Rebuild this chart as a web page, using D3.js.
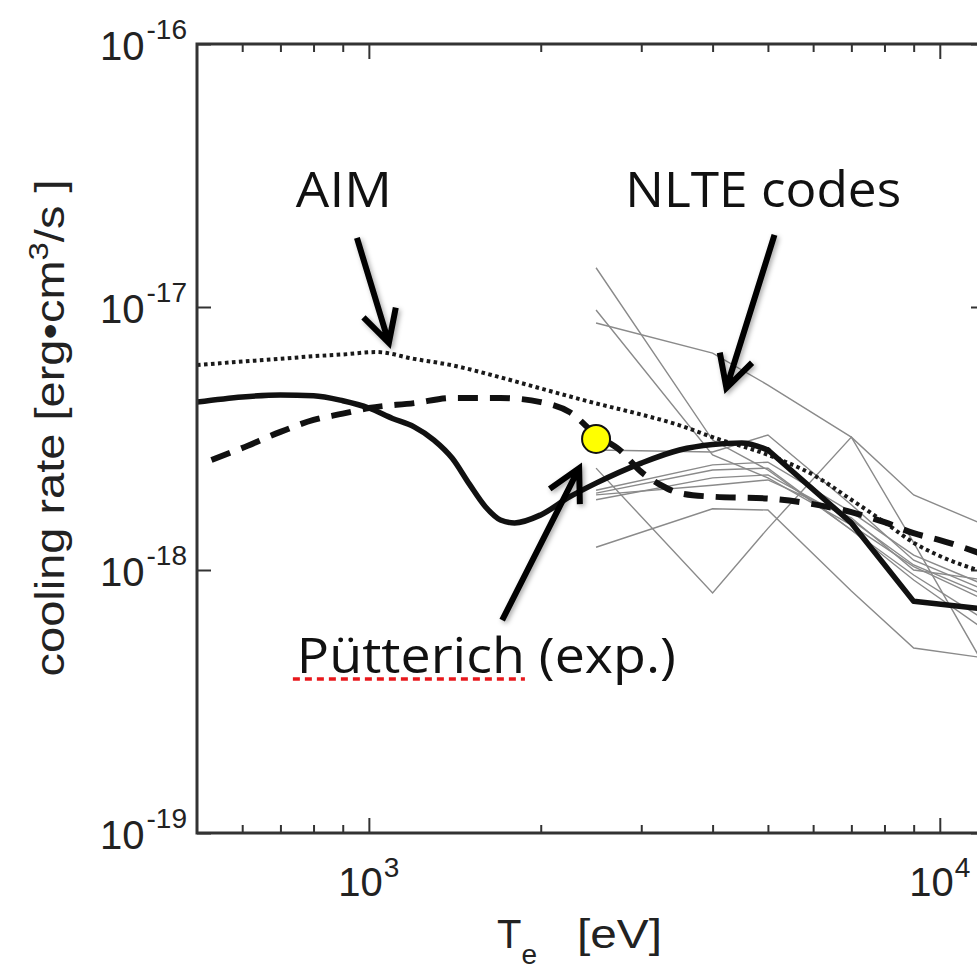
<!DOCTYPE html>
<html>
<head>
<meta charset="utf-8">
<script src="https://cdn.jsdelivr.net/npm/d3@7"></script>
<style>
  body { margin: 0; background: #fff; }
  svg { display: block; }
</style>
</head>
<body>
<svg id="chart" width="977" height="970"></svg>
<script>
// ---- data: electron temperature (eV) vs. tungsten cooling rate (erg cm^3 / s) ----

// Pütterich (solid thick line)
const puettTemps = [500, 600, 700, 800, 900, 1000, 1100, 1200, 1300, 1400, 1500, 1600, 1700, 1800,
  2000, 2250, 2500, 3000, 3500, 4000, 4500, 5000, 7000, 9000, 12000];
const puettRates = [4.35e-18, 4.55e-18, 4.63e-18, 4.6e-18, 4.4e-18, 4.13e-18, 3.77e-18, 3.5e-18, 3.12e-18,
  2.66e-18, 2.12e-18, 1.74e-18, 1.55e-18, 1.51e-18, 1.62e-18, 1.9e-18, 2.14e-18, 2.55e-18, 2.86e-18,
  3.0e-18, 3.04e-18, 2.86e-18, 1.51e-18, 7.6e-19, 7.1e-19];
// above this temperature the tabulated points are joined by straight segments
const puettCoarseFrom = 5000;

// second model (dashed thick line)
const dashTemps = [530, 600, 700, 800, 900, 1000, 1200, 1400, 1700, 2000, 2250, 2500, 2750, 3000, 3250,
  3500, 4000, 5000, 6000, 7000, 8000, 9000, 10000, 12000];
const dashRates = [2.62e-18, 2.91e-18, 3.35e-18, 3.72e-18, 3.93e-18, 4.13e-18, 4.31e-18, 4.51e-18,
  4.51e-18, 4.35e-18, 3.98e-18, 3.27e-18, 2.86e-18, 2.36e-18, 2.1e-18, 1.96e-18, 1.9e-18, 1.87e-18,
  1.78e-18, 1.66e-18, 1.52e-18, 1.38e-18, 1.3e-18, 1.14e-18];

// AIM (dotted line)
const aimTemps = [500, 600, 700, 800, 900, 1030, 1200, 1400, 1700, 2000, 2500, 3000, 3500, 4000, 5000,
  6000, 7000, 8000, 9000, 10000, 12000];
const aimRates = [6.02e-18, 6.2e-18, 6.35e-18, 6.5e-18, 6.6e-18, 6.74e-18, 6.35e-18, 6.0e-18, 5.4e-18,
  4.9e-18, 4.3e-18, 3.9e-18, 3.55e-18, 3.2e-18, 2.74e-18, 2.3e-18, 1.85e-18, 1.52e-18, 1.27e-18,
  1.13e-18, 9.8e-19];

// NLTE code submissions (thin grey lines), common temperature grid
const nlteTemps = [2500, 4000, 5000, 7000, 9000, 12000];
const nlteRuns = [
  [1.41e-17, 3.12e-18, 2.40e-18, 1.42e-18, 9.57e-19, 6.46e-19],
  [9.74e-18, 2.74e-18, 2.24e-18, 1.48e-18, 1.03e-18, 7.69e-19],
  [8.69e-18, 6.68e-18, 5.05e-18, 3.20e-18, 1.93e-18, 1.48e-18],
  [2.44e-18, 8.18e-19, 1.44e-18, 3.20e-18, 1.27e-18, 4.28e-19],
  [1.22e-18, 1.71e-18, 1.69e-18, 8.32e-19, 5.05e-19, 4.63e-19],
  [2.86e-18, 2.81e-18, 3.26e-18, 1.77e-18, 1.09e-18, 8.39e-19],
  [2.01e-18, 2.51e-18, 2.57e-18, 1.66e-18, 1.14e-18, 8.77e-19],
  [1.85e-18, 2.24e-18, 2.30e-18, 1.55e-18, 1.045e-18, 8.03e-19],
  [1.96e-18, 2.40e-18, 2.44e-18, 1.42e-18, 9.16e-19, 5.92e-19],
  [1.93e-18, 2.10e-18, 2.20e-18, 1.58e-18, 1.0e-18, 9.16e-19]
];

// experimental point
const expTemp = 2500;
const expRate = 3.15e-18;

// axis ticks
const xMajorTicks = [1000, 10000];
const xTickExponents = ["3", "4"];
const yMajorTicks = [1e-19, 1e-18, 1e-17, 1e-16];
const yTickExponents = ["-19", "-18", "-17", "-16"];

// annotation labels and arrows, anchored in data coordinates
const labelTexts = ["AIM", "NLTE codes", "Pütterich (exp.)"];
const labelTemps = [745, 2812, 748];
const labelRates = [2.4e-17, 2.4e-17, 4.06e-19];
const labelWidths = [96, 276, 379];
const arrowFromTemps = [953, 5134, 1712];
const arrowFromRates = [1.83e-17, 1.88e-17, 6.45e-19];
const arrowToTemps = [1084, 4229, 2335];
const arrowToRates = [7.3e-18, 4.92e-18, 2.44e-18];

// ---- layout ----
const plot = { left: 197, top: 44, right: 985, bottom: 833 };
const svg = d3.select("#chart");

const x = d3.scaleLog().domain([500, 12000]).range([plot.left, plot.right]);
const y = d3.scaleLog().domain([1e-19, 1e-16]).range([plot.bottom, plot.top]);

const isPow10 = t => Math.abs(Math.log10(t) - Math.round(Math.log10(t))) < 1e-9;
const xMinorTicks = x.ticks().filter(t => t > 500 && t < 12000 && !isPow10(t));

svg.append("rect").attr("width", 977).attr("height", 970).attr("fill", "#fff");

const defs = svg.append("defs");
defs.append("clipPath").attr("id", "plotClip")
  .append("rect")
  .attr("x", plot.left).attr("y", plot.top)
  .attr("width", plot.right - plot.left).attr("height", plot.bottom - plot.top);
const shadow = defs.append("filter").attr("id", "arrowShadow")
  .attr("x", "-50%").attr("y", "-50%").attr("width", "200%").attr("height", "200%");
shadow.append("feDropShadow").attr("dx", 2).attr("dy", 2).attr("stdDeviation", 2.5)
  .attr("flood-color", "#000").attr("flood-opacity", 0.35);

// ---- axes (inward ticks on all four sides) ----
const tickColor = "#333";
function styleAxis(g) {
  g.select(".domain").remove();
  g.selectAll(".tick line").attr("stroke", tickColor).attr("stroke-width", 2);
  g.selectAll(".tick text").remove();
}
svg.append("g").attr("transform", `translate(0,${plot.bottom})`)
  .call(d3.axisBottom(x).tickValues(xMinorTicks).tickSize(-8).tickFormat("")).call(styleAxis);
svg.append("g").attr("transform", `translate(0,${plot.bottom})`)
  .call(d3.axisBottom(x).tickValues(xMajorTicks).tickSize(-15).tickFormat("")).call(styleAxis);
svg.append("g").attr("transform", `translate(0,${plot.top})`)
  .call(d3.axisTop(x).tickValues(xMinorTicks).tickSize(-8).tickFormat("")).call(styleAxis);
svg.append("g").attr("transform", `translate(0,${plot.top})`)
  .call(d3.axisTop(x).tickValues(xMajorTicks).tickSize(-15).tickFormat("")).call(styleAxis);
svg.append("g").attr("transform", `translate(${plot.left},0)`)
  .call(d3.axisLeft(y).tickValues(yMajorTicks).tickSize(-14).tickFormat("")).call(styleAxis);
svg.append("g").attr("transform", `translate(${plot.right},0)`)
  .call(d3.axisRight(y).tickValues(yMajorTicks).tickSize(-14).tickFormat("")).call(styleAxis);

// ---- curves ----
const curves = svg.append("g").attr("clip-path", "url(#plotClip)");
const line = d3.line().x(d => x(d[0])).y(d => y(d[1]));
const smooth = d3.line().x(d => x(d[0])).y(d => y(d[1])).curve(d3.curveMonotoneX);

nlteRuns.forEach(run => {
  curves.append("path")
    .datum(nlteTemps.map((t, i) => [t, run[i]]))
    .attr("d", line)
    .attr("fill", "none").attr("stroke", "#8a8a8a").attr("stroke-width", 1.4);
});

curves.append("path")
  .datum(aimTemps.map((t, i) => [t, aimRates[i]]))
  .attr("d", smooth)
  .attr("fill", "none").attr("stroke", "#1a1a1a").attr("stroke-width", 4)
  .attr("stroke-dasharray", "3.6,3.4");

curves.append("path")
  .datum(dashTemps.map((t, i) => [t, dashRates[i]]))
  .attr("d", smooth)
  .attr("fill", "none").attr("stroke", "#111").attr("stroke-width", 6)
  .attr("stroke-dasharray", "20,12");

const puettPts = puettTemps.map((t, i) => [t, puettRates[i]]);
const solidStyle = p => p.attr("fill", "none").attr("stroke", "#111").attr("stroke-width", 5.5)
  .attr("stroke-linejoin", "round").attr("stroke-linecap", "round");
curves.append("path")
  .datum(puettPts.filter(d => d[0] <= puettCoarseFrom))
  .attr("d", smooth).call(solidStyle);
curves.append("path")
  .datum(puettPts.filter(d => d[0] >= puettCoarseFrom))
  .attr("d", line).call(solidStyle);

// ---- frame ----
svg.append("rect")
  .attr("x", plot.left).attr("y", plot.top)
  .attr("width", plot.right - plot.left).attr("height", plot.bottom - plot.top)
  .attr("fill", "none").attr("stroke", "#333").attr("stroke-width", 3);

// ---- tick labels ----
const tickFont = "'Liberation Sans', Arial, Helvetica, sans-serif";
yMajorTicks.forEach((v, i) => {
  const t = svg.append("text")
    .attr("x", 187).attr("y", y(v) + 16)
    .attr("text-anchor", "end")
    .attr("font-family", tickFont).attr("font-size", 40).attr("fill", "#222");
  t.append("tspan").text("10");
  t.append("tspan").attr("dy", -21).attr("dx", 2).attr("font-size", 28).text(yTickExponents[i]);
});
xMajorTicks.forEach((v, i) => {
  const t = svg.append("text")
    .attr("x", x(v)).attr("y", 896)
    .attr("text-anchor", "middle")
    .attr("font-family", tickFont).attr("font-size", 40).attr("fill", "#222");
  t.append("tspan").text("10");
  t.append("tspan").attr("dy", -19).attr("dx", 1).attr("font-size", 28).text(xTickExponents[i]);
});

// ---- axis titles ----
const xTitle = svg.append("text")
  .attr("x", 497).attr("y", 948)
  .attr("font-family", tickFont).attr("font-size", 40).attr("fill", "#222");
xTitle.append("tspan").text("T");
xTitle.append("tspan").attr("dy", 16).attr("font-size", 28).text("e");
svg.append("text")
  .attr("x", 577).attr("y", 948)
  .attr("font-family", tickFont).attr("font-size", 40).attr("fill", "#222")
  .attr("textLength", 85).attr("lengthAdjust", "spacingAndGlyphs")
  .text("[eV]");

const yTitle = svg.append("text")
  .attr("transform", "translate(64,428) rotate(-90)")
  .attr("text-anchor", "middle")
  .attr("textLength", 497).attr("lengthAdjust", "spacingAndGlyphs")
  .attr("font-family", tickFont).attr("font-size", 40).attr("fill", "#222");
yTitle.append("tspan").text("cooling rate [erg•cm");
yTitle.append("tspan").attr("dy", -16).attr("font-size", 28).text("3");
yTitle.append("tspan").attr("dy", 16).text("/s ]");

// ---- annotation arrows ----
const arrows = svg.append("g").attr("filter", "url(#arrowShadow)");
arrowFromTemps.forEach((t0, i) => {
  const x0 = x(t0), y0 = y(arrowFromRates[i]);
  const x1 = x(arrowToTemps[i]), y1 = y(arrowToRates[i]);
  const ang = Math.atan2(y0 - y1, x0 - x1);
  const wing = 36, spread = 28 * Math.PI / 180;
  const w1 = [x1 + wing * Math.cos(ang - spread), y1 + wing * Math.sin(ang - spread)];
  const w2 = [x1 + wing * Math.cos(ang + spread), y1 + wing * Math.sin(ang + spread)];
  arrows.append("path")
    .attr("d", `M${x0},${y0}L${x1},${y1}M${w1[0]},${w1[1]}L${x1},${y1}L${w2[0]},${w2[1]}`)
    .attr("fill", "none").attr("stroke", "#000").attr("stroke-width", 6)
    .attr("stroke-linejoin", "miter").attr("stroke-linecap", "butt");
});

// ---- experimental point ----
svg.append("circle")
  .attr("cx", x(expTemp)).attr("cy", y(expRate)).attr("r", 14)
  .attr("fill", "#ffff00").attr("stroke", "#111").attr("stroke-width", 2);

// ---- annotation labels ----
const labelFont = "'Open Sans', 'Noto Sans', sans-serif";
labelTexts.forEach((s, i) => {
  const t = svg.append("text")
    .attr("x", x(labelTemps[i])).attr("y", y(labelRates[i]))
    .attr("font-family", labelFont).attr("font-size", 50).attr("fill", "#111")
    .attr("textLength", labelWidths[i]).attr("lengthAdjust", "spacingAndGlyphs")
    .text(s);
  if (i === 2) {
    // dotted red underline below the surname
    const node = t.node();
    const w = node.getSubStringLength(0, 9);
    const bx = +t.attr("x");
    svg.append("line")
      .attr("x1", bx - 4).attr("x2", bx + w)
      .attr("y1", +t.attr("y") + 6).attr("y2", +t.attr("y") + 6)
      .attr("stroke", "#e8181c").attr("stroke-width", 3.5)
      .attr("stroke-dasharray", "7,5");
  }
});
</script>
</body>
</html>
